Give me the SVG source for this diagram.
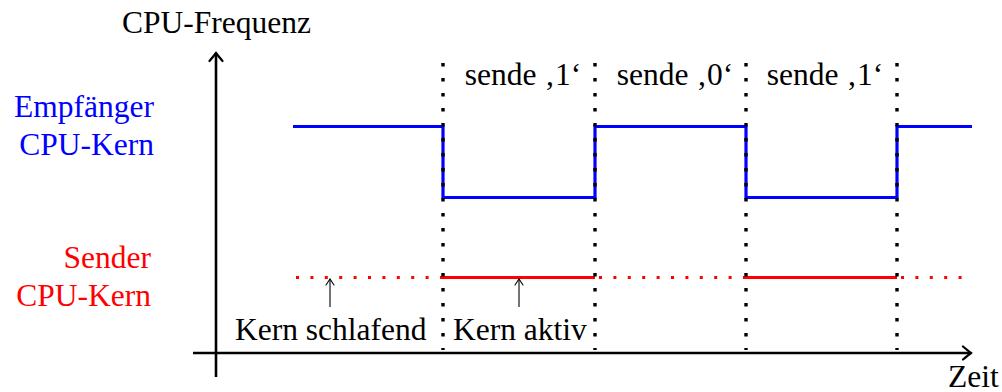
<svg xmlns="http://www.w3.org/2000/svg" width="1002" height="392" viewBox="0 0 1002 392" font-family="'Liberation Serif', 'DejaVu Serif', serif">
  <defs>
    <marker id="tip" viewBox="-10 -8 12 16" markerWidth="12" markerHeight="16" refX="0" refY="0" markerUnits="userSpaceOnUse" orient="auto">
      <path d="M-8,-6.5 Q-2,-1.5 0,0 Q-2,1.5 -8,6.5" fill="none" stroke="#000" stroke-width="2.2" stroke-linecap="round"/>
    </marker>
    <marker id="tipThin" viewBox="-8 -6 10 12" markerWidth="10" markerHeight="12" refX="0" refY="0" markerUnits="userSpaceOnUse" orient="auto">
      <path d="M-6,-4 Q-1.5,-1 0,0 Q-1.5,1 -6,4" fill="none" stroke="#000" stroke-width="1.1" stroke-linecap="round"/>
    </marker>
  </defs>
  <style>
    text { font-size: 31.5px; }
    .axis { stroke: #000; stroke-width: 2.6; fill: none; }
    .sep { stroke: #000; stroke-width: 3.4; stroke-dasharray: 3.4 11.6; fill: none; }
    .recv { stroke: #0000ff; stroke-width: 3.2; fill: none; }
    .send { stroke: #ff0000; stroke-width: 3.2; fill: none; }
    .sleep { stroke: #ff0000; stroke-width: 3.2; stroke-dasharray: 3 11.4; fill: none; }
    .pointer { stroke: #000; stroke-width: 1.1; fill: none; }
    .blue { fill: #0000ff; }
    .red { fill: #ff0000; }
  </style>

  <rect width="1002" height="392" fill="#fff"/>

  <!-- axes -->
  <g id="axes">
    <path class="axis" d="M216,377 V53" marker-end="url(#tip)"/>
    <path class="axis" d="M193,353 H971" marker-end="url(#tip)"/>
    <text x="122" y="33">CPU-Frequenz</text>
    <text x="948" y="387">Zeit</text>
  </g>

  <!-- receiver core frequency -->
  <g id="receiver">
    <text class="blue" x="154" y="117" text-anchor="end">Empfänger</text>
    <text class="blue" x="154" y="155" text-anchor="end">CPU-Kern</text>
    <path class="recv" d="M293,126.5 H443 V197.5 H595 V126.5 H746 V197.5 H897 V126.5 H972"/>
  </g>

  <!-- sender core activity -->
  <g id="sender">
    <text class="red" x="151" y="268" text-anchor="end">Sender</text>
    <text class="red" x="151" y="306" text-anchor="end">CPU-Kern</text>
    <path class="sleep" d="M296,277.5 H443"/>
    <path class="send" d="M443,277.5 H595"/>
    <path class="sleep" d="M599,277.5 H746"/>
    <path class="send" d="M746,277.5 H897"/>
    <path class="sleep" d="M901,277.5 H966"/>
  </g>

  <!-- interval separators, drawn over the signal lines -->
  <g id="separators">
    <path class="sep" d="M443,63 V350"/>
    <path class="sep" d="M595,63 V350"/>
    <path class="sep" d="M746,63 V350"/>
    <path class="sep" d="M897,63 V350"/>
  </g>

  <!-- interval labels -->
  <g id="bits">
    <text x="523" y="85" text-anchor="middle">sende ‚1‘</text>
    <text x="675" y="85" text-anchor="middle">sende ‚0‘</text>
    <text x="825" y="85" text-anchor="middle">sende ‚1‘</text>
  </g>

  <!-- state annotations -->
  <g id="annotations">
    <path class="pointer" d="M330,307 V279" marker-end="url(#tipThin)"/>
    <path class="pointer" d="M519,307 V279" marker-end="url(#tipThin)"/>
    <text x="235" y="340">Kern schlafend</text>
    <text x="453" y="340">Kern aktiv</text>
  </g>
</svg>
